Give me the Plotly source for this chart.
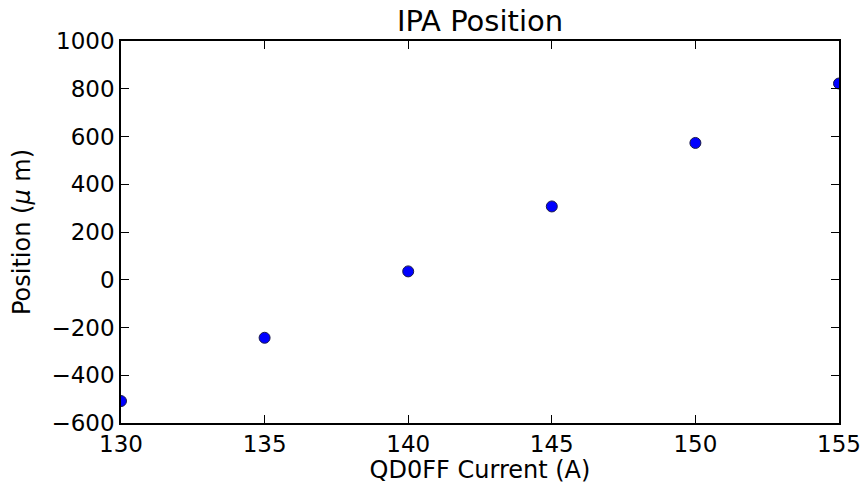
import plotly.graph_objects as go

# QD0FF magnet current scan and the measured IPA beam position
current_a = [130, 135, 140, 145, 150, 155]
position_um = [-508, -243, 35, 307, 573, 822]

x_ticks = [130, 135, 140, 145, 150, 155]
y_ticks = [-600, -400, -200, 0, 200, 400, 600, 800, 1000]

fig = go.Figure(
    go.Scatter(
        x=current_a,
        y=position_um,
        mode="markers",
        marker=dict(size=11, color="#0000ff", line=dict(color="#1a1a4a", width=1)),
        cliponaxis=True,
    )
)

axis_common = dict(
    showline=True,
    linecolor="black",
    linewidth=1.5,
    mirror="ticks",
    ticks="inside",
    ticklen=8,
    tickwidth=1,
    tickcolor="black",
    showgrid=False,
    zeroline=False,
    automargin=False,
    tickfont=dict(family="DejaVu Sans", size=23, color="black"),
)

fig.update_layout(
    width=861,
    height=484,
    margin=dict(l=121, r=22, t=41, b=61),
    paper_bgcolor="white",
    plot_bgcolor="white",
    showlegend=False,
    title=dict(
        text="IPA Position",
        x=0.5,
        xref="paper",
        y=0.957,
        yref="container",
        yanchor="middle",
        font=dict(family="DejaVu Sans", size=29, color="black"),
    ),
    xaxis=dict(
        range=[130, 155],
        tickvals=x_ticks,
        title=dict(text="QD0FF Current (A)", font=dict(family="DejaVu Sans", size=24, color="black"), standoff=4),
        **axis_common,
    ),
    yaxis=dict(
        range=[-600, 1000],
        tickvals=y_ticks,
        tickformat="d",
        title=dict(text="Position (<i>μ</i> m)", font=dict(family="DejaVu Sans", size=24, color="black"), standoff=14),
        **axis_common,
    ),
)

fig.write_html("out.html")
